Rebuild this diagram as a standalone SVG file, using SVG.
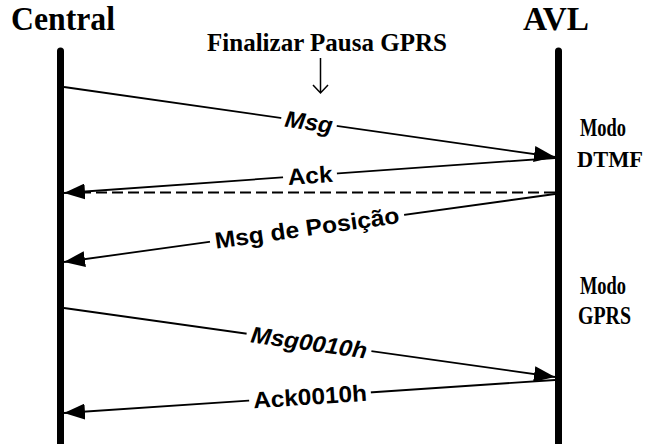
<svg xmlns="http://www.w3.org/2000/svg" width="650" height="444" viewBox="0 0 650 444">
<style>
.hdr{font-family:"Liberation Serif","Times New Roman",serif;font-weight:bold;fill:#000}
.lbl{font-family:"Liberation Sans",Arial,sans-serif;font-weight:bold;font-size:23px;fill:#000}
.it{font-style:italic}
.msg{stroke:#000;stroke-width:1.8;fill:none}
.bg{fill:#fff}
.life{stroke:#000;stroke-width:7;stroke-linecap:round}
.mode{font-size:25px}
</style>
<defs>
<marker id="ah" markerUnits="userSpaceOnUse" markerWidth="22" markerHeight="16" refX="21" refY="8" orient="auto">
<path d="M0,0 L21,8 L0,16 Z" fill="#000"/>
</marker>
</defs>
<rect width="650" height="444" fill="#fff"/>
<g id="central">
<line class="life" x1="60.5" y1="51" x2="60.5" y2="450"/>
<text class="hdr" x="11" y="30" font-size="33" textLength="104" lengthAdjust="spacingAndGlyphs">Central</text>
</g>
<g id="avl">
<line class="life" x1="558.5" y1="51" x2="558.5" y2="450"/>
<text class="hdr" x="523" y="30" font-size="33" textLength="66" lengthAdjust="spacingAndGlyphs">AVL</text>
</g>
<g id="finalizar">
<text class="hdr" x="207" y="51" font-size="26" textLength="240" lengthAdjust="spacingAndGlyphs">Finalizar Pausa GPRS</text>
<path d="M320.5,58 V93 M313,85 L320.5,93 L328,85" stroke="#000" stroke-width="1.5" fill="none"/>
</g>
<g id="modo-dtmf">
<text class="hdr mode" x="580" y="136" textLength="46" lengthAdjust="spacingAndGlyphs">Modo</text>
<text class="hdr" font-size="22.5" x="577" y="167" textLength="66" lengthAdjust="spacingAndGlyphs">DTMF</text>
</g>
<g id="modo-gprs">
<text class="hdr mode" x="580" y="294" textLength="46" lengthAdjust="spacingAndGlyphs">Modo</text>
<text class="hdr mode" x="578" y="324" textLength="53" lengthAdjust="spacingAndGlyphs">GPRS</text>
</g>
<g id="connectors">
<path class="msg" d="M64,87 L555,157" marker-end="url(#ah)"/>
<path class="msg" d="M555,158 L64,193" marker-end="url(#ah)"/>
<path class="msg" d="M555,192.5 L80,192.5" stroke-dasharray="11,5"/>
<path class="msg" d="M555,194 L64,262" marker-end="url(#ah)"/>
<path class="msg" d="M64,308 L555,377" marker-end="url(#ah)"/>
<path class="msg" d="M555,380 L64,413" marker-end="url(#ah)"/>
<g transform="translate(309,122) rotate(8.1)">
<rect class="bg" x="-28" y="-4" width="56" height="8"/>
<text class="lbl it" x="0" y="8" text-anchor="middle" textLength="48" lengthAdjust="spacingAndGlyphs">Msg</text>
</g>
<g transform="translate(310,175.5) rotate(-4.1)">
<rect class="bg" x="-27" y="-4" width="54" height="8"/>
<text class="lbl" x="0" y="8" text-anchor="middle" textLength="45" lengthAdjust="spacingAndGlyphs">Ack</text>
</g>
<g transform="translate(307,228) rotate(-8)">
<rect class="bg" x="-98" y="-4" width="196" height="8"/>
<text class="lbl" x="0" y="8" text-anchor="middle" textLength="186" lengthAdjust="spacingAndGlyphs">Msg de Posição</text>
</g>
<g transform="translate(309,342.5) rotate(8)">
<rect class="bg" x="-63" y="-4" width="126" height="8"/>
<text class="lbl it" x="0" y="8" text-anchor="middle" textLength="117" lengthAdjust="spacingAndGlyphs">Msg0010h</text>
</g>
<g transform="translate(310,396.5) rotate(-3.85)">
<rect class="bg" x="-61" y="-4" width="122" height="8"/>
<text class="lbl" x="0" y="8" text-anchor="middle" textLength="114" lengthAdjust="spacingAndGlyphs">Ack0010h</text>
</g>
</g>
</svg>
